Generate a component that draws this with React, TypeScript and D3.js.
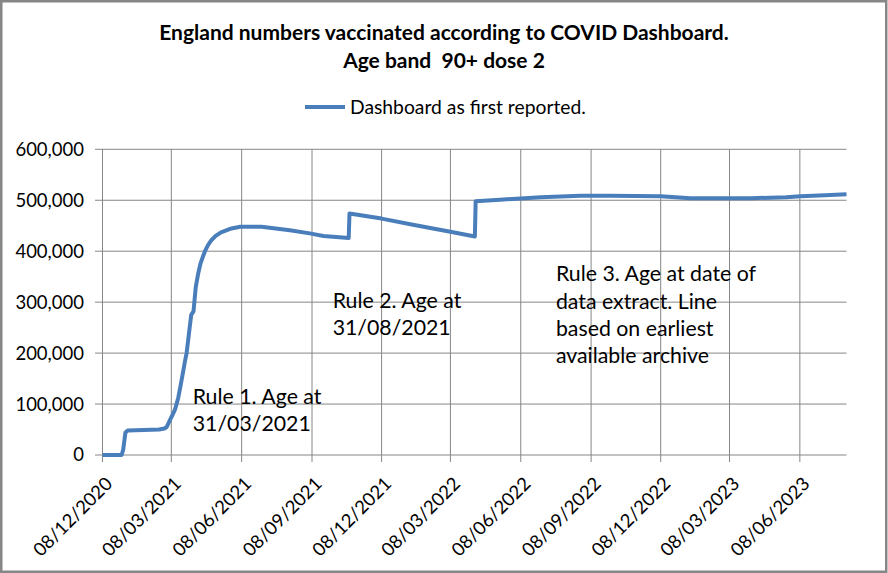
import React from "react";
import * as d3 from "d3";

const dates: string[] = [
  "2020-12-08", "2021-01-02", "2021-01-04", "2021-01-07", "2021-01-10", "2021-01-31",
  "2021-02-20", "2021-02-27", "2021-03-02", "2021-03-06", "2021-03-10", "2021-03-13",
  "2021-03-17", "2021-03-20", "2021-03-23", "2021-03-26", "2021-03-28", "2021-04-01",
  "2021-04-03", "2021-04-06", "2021-04-09", "2021-04-12", "2021-04-15", "2021-04-18",
  "2021-04-21", "2021-04-25", "2021-04-29", "2021-05-05", "2021-05-12", "2021-05-24",
  "2021-06-06", "2021-07-04", "2021-08-10", "2021-09-05", "2021-09-23", "2021-10-26",
  "2021-10-27", "2021-12-08", "2022-01-18", "2022-03-08", "2022-04-09", "2022-04-10",
  "2022-05-12", "2022-07-04", "2022-08-25", "2022-10-03", "2022-12-08", "2023-01-16",
  "2023-04-05", "2023-05-21", "2023-06-09", "2023-07-11", "2023-08-08",
];
const values: number[] = [
  0, 0, 10000, 44000, 48000, 49000,
  50000, 52000, 55000, 68000, 80000, 90000,
  112000, 135000, 160000, 185000, 200000, 250000,
  275000, 282000, 330000, 355000, 375000, 388000,
  400000, 412000, 421000, 430000, 437000, 444000,
  448000, 448000, 441000, 435000, 430000, 426000,
  474000, 464000, 452000, 438000, 429000, 498000,
  501000, 506000, 509000, 509000, 508000, 504000,
  504000, 506000, 508000, 510000, 512000,
];
const xTickLabels: string[] = [
  "08/12/2020", "08/03/2021", "08/06/2021", "08/09/2021", "08/12/2021", "08/03/2022",
  "08/06/2022", "08/09/2022", "08/12/2022", "08/03/2023", "08/06/2023",
];
const yTicks: number[] = [0, 100000, 200000, 300000, 400000, 500000, 600000];
const xDomain: string[] = ["2020-12-08", "2023-08-08"];
const titleLines: string[] = [
  "England numbers vaccinated according to COVID Dashboard.",
  "Age band  90+ dose 2",
];
const seriesName = "Dashboard as first reported.";
const annotations: { lines: string[]; date: string; value: number }[] = [
  { lines: ["Rule 1. Age at", "31/03/2021"], date: "2021-04-05", value: 101000 },
  { lines: ["Rule 2. Age at", "31/08/2021"], date: "2021-10-05", value: 289000 },
  {
    lines: ["Rule 3. Age at date of", "data extract. Line", "based on earliest", "available archive"],
    date: "2022-07-24",
    value: 341000,
  },
];

const parseISO = d3.utcParse("%Y-%m-%d");
const parseDMY = d3.utcParse("%d/%m/%Y");

export default function App() {
  const W = 888, H = 573;
  const x = d3.scaleUtc()
    .domain(xDomain.map((s) => parseISO(s) as Date))
    .range([102.5, 846.5]);
  const y = d3.scaleLinear().domain([0, 600000]).range([455, 149.3]);
  const grid = "#868686";
  const font = "Lato, 'Open Sans', sans-serif";
  const pts = dates.map((d, i) => [parseISO(d) as Date, values[i]] as [Date, number]);
  const line = d3.line<[Date, number]>()
    .x((d) => x(d[0]))
    .y((d) => y(d[1]));
  const fmt = d3.format(",");
  const x0 = x.range()[0], x1 = x.range()[1];
  const y0 = y.range()[0], y1 = y.range()[1];

  return (
    <svg width={W} height={H} style={{ position: "absolute", left: 0, top: 0, background: "#fff" }}
      fontFamily={font}>
      <rect x={0} y={0} width={W} height={H} fill="#fff" />
      <rect x={1.25} y={1.25} width={885} height={570.5} fill="none" stroke={grid} strokeWidth={2.5} />
      {titleLines.map((t, i) => (
        <text key={i} x={444} y={40 + i * 28} textAnchor="middle" fontWeight="bold" fontSize={21}
          fill="#000" style={{ whiteSpace: "pre" }}>{t}</text>
      ))}
      <line x1={305} x2={345} y1={107} y2={107} stroke="#4a7ebb" strokeWidth={4} />
      <text x={350} y={113.5} fontSize={19.3} fill="#000">{seriesName}</text>
      {yTicks.map((v) => (
        <g key={v}>
          <line x1={95} x2={x1} y1={y(v)} y2={y(v)} stroke={grid} strokeWidth={1} />
          <text x={84} y={y(v)} dy="0.35em" textAnchor="end" fontSize={18.5} fill="#000">{fmt(v)}</text>
        </g>
      ))}
      {xTickLabels.map((lab) => {
        const xx = x(parseDMY(lab) as Date);
        return (
          <g key={lab}>
            <line x1={xx} x2={xx} y1={y1} y2={y0 + 7} stroke={grid} strokeWidth={1} />
            <text transform={`translate(${xx + 11},${485}) rotate(-45)`} textAnchor="end" fontSize={18.5}
              fill="#000">{lab}</text>
          </g>
        );
      })}
      <line x1={x0} x2={x0} y1={y1} y2={y0} stroke={grid} strokeWidth={1} />
      <path d={line(pts) ?? ""} fill="none" stroke="#4a7ebb" strokeWidth={4} strokeLinejoin="round" />
      {annotations.map((a, i) => (
        <text key={i} fontSize={21.3} fill="#000">
          {a.lines.map((l, j) => (
            <tspan key={j} x={x(parseISO(a.date) as Date)} y={y(a.value) + j * 27.3}>{l}</tspan>
          ))}
        </text>
      ))}
    </svg>
  );
}
